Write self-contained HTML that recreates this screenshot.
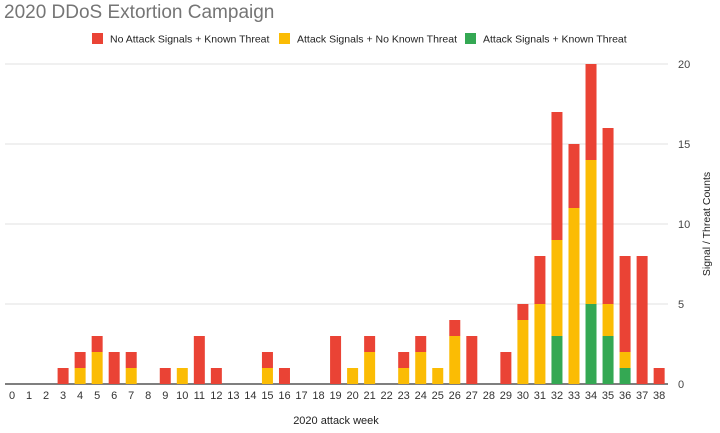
<!DOCTYPE html>
<html><head><meta charset="utf-8"><style>
body{margin:0;background:#fff;font-family:"Liberation Sans",Arial,sans-serif}
svg text{font-family:"Liberation Sans",Arial,sans-serif}
</style></head><body>
<svg id="c" width="720" height="428" xmlns="http://www.w3.org/2000/svg">
<text x="4" y="18" font-size="19" fill="#757575">2020 DDoS Extortion Campaign</text>
<g font-size="10.5" fill="#222">
<g><rect x="92" y="33" width="11" height="11" fill="#ea4335"/><text x="110" y="42.5">No Attack Signals + Known Threat</text></g>
<g><rect x="279" y="33" width="11" height="11" fill="#fbbc04"/><text x="297" y="42.5">Attack Signals + No Known Threat</text></g>
<g><rect x="465" y="33" width="11" height="11" fill="#34a853"/><text x="483" y="42.5">Attack Signals + Known Threat</text></g>
</g>
<g id="grid"></g><g id="bars"></g><g id="xl"></g>
<text x="336" y="424" font-size="11" fill="#222" text-anchor="middle">2020 attack week</text>
<text transform="translate(710,224) rotate(-90)" font-size="10.5" fill="#222" text-anchor="middle">Signal / Threat Counts</text>
</svg>
<script>
const weeks=[...Array(39).keys()];
const green=[0,0,0,0,0,0,0,0,0,0,0,0,0,0,0,0,0,0,0,0,0,0,0,0,0,0,0,0,0,0,0,0,3,0,5,3,1,0,0];
const yellow=[0,0,0,0,1,2,0,1,0,0,1,0,0,0,0,1,0,0,0,0,1,2,0,1,2,1,3,0,0,0,4,5,6,11,9,2,1,0,0];
const red=[0,0,0,1,1,1,2,1,0,1,0,3,1,0,0,1,1,0,0,3,0,1,0,1,1,0,1,3,0,2,1,3,8,4,6,11,6,8,1];
const yTicks=[0,5,10,15,20];
const NS='http://www.w3.org/2000/svg';
const y=v=>384-v*16, x=i=>12+i*17.03;
function mk(t,a,p){const e=document.createElementNS(NS,t);for(const k in a)e.setAttribute(k,a[k]);p.appendChild(e);return e;}
const grid=document.getElementById('grid');
yTicks.forEach(v=>{
 const l=mk('line',{x1:5,x2:668,y1:y(v),y2:y(v),stroke:v===0?'#333':'#e0e0e0','stroke-width':v===0?1.3:1},grid);
 
 
 const t=mk('text',{x:678,y:y(v)+4,'font-size':11,fill:'#444'},grid);t.textContent=v;
 
 
});
const bars=document.getElementById('bars'),xl=document.getElementById('xl');
weeks.forEach(i=>{
 let base=0;
 [[green,'#34a853','green'],[yellow,'#fbbc04','yellow'],[red,'#ea4335','red']].forEach(([arr,c,n])=>{
  const v=arr[i]; if(v>0){
   const r=mk('rect',{x:x(i)-5.5,y:y(base+v),width:11,height:v*16,fill:c},bars);
   
   
   base+=v;}
 });
 const t=mk('text',{x:x(i),y:399,'font-size':11,fill:'#333','text-anchor':'middle'},xl);t.textContent=i;
 
 
});
</script>
</body></html>
